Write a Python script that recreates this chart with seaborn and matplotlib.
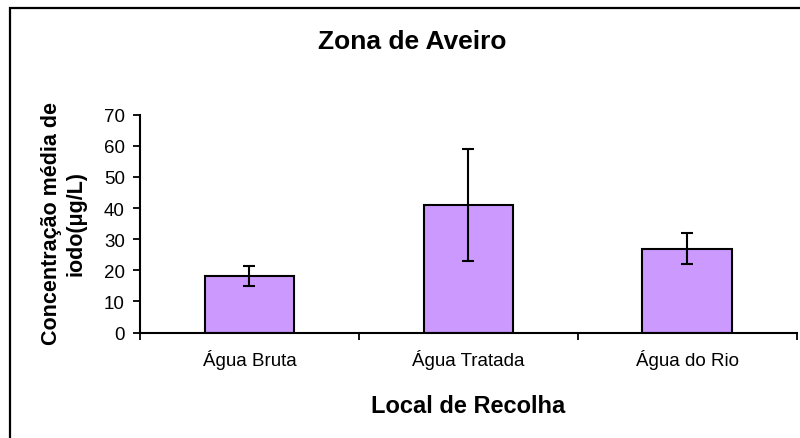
import matplotlib
matplotlib.use("Agg")
import matplotlib.pyplot as plt
import matplotlib.patches as patches
import seaborn as sns

sns.set_style("white")
plt.rcParams["font.family"] = ["Liberation Sans", "DejaVu Sans"]
plt.rcParams["text.color"] = "black"
plt.rcParams["xtick.color"] = "black"
plt.rcParams["ytick.color"] = "black"

# data
locais = ["Água Bruta", "Água Tratada", "Água do Rio"]
media = [18.2, 41.0, 26.9]
desvio = [3.3, 17.9, 5.0]

fig = plt.figure(figsize=(8, 4.39), dpi=100)
ax = fig.add_axes([0.175, 0.2403, 0.821, 0.4961])

sns.barplot(x=locais, y=media, color="#cc99ff", edgecolor="black",
            linewidth=1.5, width=0.41, saturation=1, errorbar=None, ax=ax)
ax.errorbar(x=range(len(locais)), y=media, yerr=desvio, fmt="none",
            ecolor="black", elinewidth=1.5, capsize=4.5, capthick=1.5)

ax.set_xlim(-0.5, 2.5)
ax.set_ylim(0, 70)
ax.set_yticks(range(0, 71, 10))
ax.set_xticks(range(len(locais)))
ax.set_xticks([-0.5, 0.5, 1.5, 2.5], minor=True)
ax.tick_params(axis="x", which="major", length=0, pad=12, labelsize=13.5)
ax.tick_params(axis="x", which="minor", length=5, width=1.3, direction="out", bottom=True)
ax.tick_params(axis="y", length=5, width=1.3, direction="out", left=True, labelsize=13.5, pad=6)
sns.despine(ax=ax)
for s in ["left", "bottom"]:
    ax.spines[s].set_linewidth(1.5)
    ax.spines[s].set_color("black")

ax.set_xlabel("")
ax.set_ylabel("")
fig.text(0.515, 0.904, "Zona de Aveiro", ha="center", va="center",
         fontsize=19, fontweight="bold")
fig.text(0.585, 0.073, "Local de Recolha", ha="center", va="center",
         fontsize=17, fontweight="bold")
fig.text(0.08, 0.492, "Concentração média de\niodo(μg/L)", ha="center", va="center",
         rotation=90, fontsize=15.5, fontweight="bold", linespacing=1.25)

# outer chart border (cut off at the right and bottom like the original)
fig.patches.append(patches.Rectangle((0.0125, -0.1), 1.2, 1.0795, fill=False,
                                     edgecolor="black", linewidth=1.6,
                                     transform=fig.transFigure, figure=fig))

plt.savefig("out.png", dpi=100)
plt.close()
